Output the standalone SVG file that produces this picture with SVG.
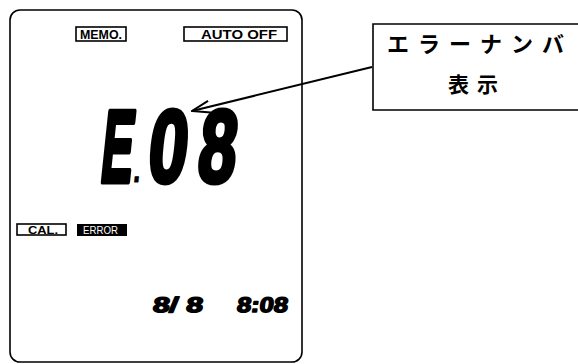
<svg xmlns="http://www.w3.org/2000/svg" width="578" height="364" viewBox="0 0 578 364">
<style>
.ln{fill:none;stroke:#000;stroke-width:1.6}
.lbl{font-family:"Liberation Sans",Arial,sans-serif;font-weight:bold;fill:#000}
.seg{font-family:"Liberation Sans",Arial,sans-serif;font-weight:bold;fill:#000;stroke:#000;stroke-linejoin:round}
.jp{font-family:"Noto Sans CJK JP","Noto Sans",sans-serif;font-weight:bold;fill:#000}
</style>
<defs>
<marker id="ah" viewBox="0 0 20 14" refX="19" refY="7" markerWidth="20" markerHeight="14" markerUnits="userSpaceOnUse" orient="auto">
<path d="M1,1 L19,7 L1,13" fill="none" stroke="#000" stroke-width="2"/>
</marker>
</defs>
<rect width="578" height="364" fill="#fff"/>
<g id="device">
<rect class="ln" x="10" y="10" width="292" height="352" rx="10"/>
</g>
<g id="memo">
<rect class="ln" x="76" y="27" width="50" height="14"/>
<text class="lbl" x="80" y="39" font-size="12" textLength="42" lengthAdjust="spacingAndGlyphs">MEMO.</text>
</g>
<g id="autooff">
<rect class="ln" x="184" y="27" width="103" height="14"/>
<text class="lbl" x="201" y="39" font-size="12" textLength="76" lengthAdjust="spacingAndGlyphs">AUTO OFF</text>
</g>
<g id="reading">
<g transform="skewX(-6)">
<text class="seg" x="118" y="182" font-size="103" stroke-width="5" textLength="32" lengthAdjust="spacingAndGlyphs">E</text>
<text class="seg" x="152" y="182" font-size="36" stroke-width="1" textLength="7" lengthAdjust="spacingAndGlyphs">.</text>
<text class="seg" x="165" y="182" font-size="103" stroke-width="5" textLength="39" lengthAdjust="spacingAndGlyphs">0</text>
<text class="seg" x="215" y="182" font-size="103" stroke-width="5" textLength="38" lengthAdjust="spacingAndGlyphs">8</text>
</g>
</g>
<g id="cal">
<rect class="ln" x="17" y="224" width="49" height="11"/>
<text class="lbl" x="28" y="233.5" font-size="11" textLength="30" lengthAdjust="spacingAndGlyphs">CAL.</text>
</g>
<g id="error">
<rect x="77" y="224" width="50" height="12" fill="#000"/>
<text class="lbl" x="83" y="234" font-size="10" style="fill:#fff;font-weight:normal" textLength="35" lengthAdjust="spacingAndGlyphs">ERROR</text>
</g>
<g id="datetime">
<g transform="skewX(-8)">
<text class="seg" x="196" y="312" font-size="21" stroke-width="1.5" textLength="50" lengthAdjust="spacingAndGlyphs" xml:space="preserve">8/ 8</text>
<text class="seg" x="280" y="312" font-size="21" stroke-width="1.5" textLength="51" lengthAdjust="spacingAndGlyphs">8:08</text>
</g>
</g>
<g id="callout">
<path class="ln" d="M578,24 H373 V110 H578" stroke-width="2"/>
<text class="jp" x="387" y="52" font-size="22" letter-spacing="9">エラーナンバ</text>
<text class="jp" x="448" y="92" font-size="21" letter-spacing="8">表示</text>
</g>
<g id="connectors">
<line x1="372" y1="67" x2="192" y2="111" stroke="#000" stroke-width="2" marker-end="url(#ah)"/>
</g>
</svg>
